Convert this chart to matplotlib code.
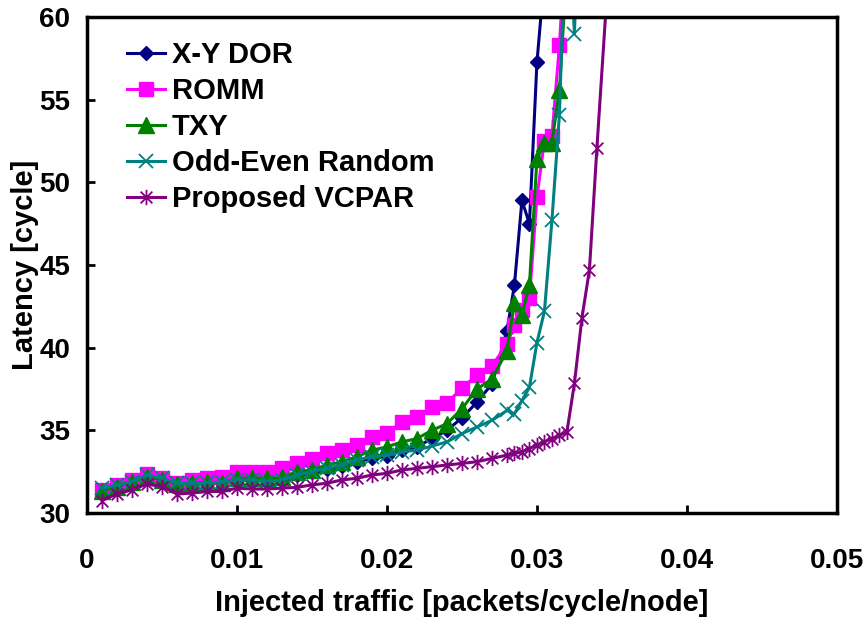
import matplotlib
matplotlib.use("Agg")
import matplotlib.pyplot as plt
from matplotlib.path import Path

plt.rcParams['font.family'] = ['Liberation Sans', 'DejaVu Sans']
plt.rcParams['font.weight'] = 'bold'

# injected traffic [packets/cycle/node]
x_low = [0.001, 0.002, 0.003, 0.004, 0.005, 0.006, 0.007, 0.008, 0.009, 0.010,
         0.011, 0.012, 0.013, 0.014, 0.015, 0.016, 0.017, 0.018, 0.019, 0.020,
         0.021, 0.022, 0.023, 0.024, 0.025, 0.026, 0.027]

xy_x = x_low + [0.028, 0.0285, 0.029, 0.0295, 0.030, 0.0305]
xy_y = [31.4, 31.6, 31.9, 32.2, 32.0, 31.7, 31.7, 31.8, 31.8, 32.0,
        32.0, 31.95, 32.0, 32.3, 32.45, 32.65, 32.85, 33.1, 33.3, 33.45,
        33.8, 34.0, 34.5, 35.0, 35.75, 36.7, 37.8,
        41.0, 43.8, 48.9, 47.5, 57.25, 62.5]

romm_x = x_low + [0.028, 0.0285, 0.029, 0.0295, 0.030, 0.0305, 0.031, 0.0315, 0.032]
romm_y = [31.4, 31.7, 32.0, 32.35, 32.1, 31.8, 32.0, 32.1, 32.15, 32.5,
          32.5, 32.5, 32.7, 33.0, 33.25, 33.6, 33.8, 34.1, 34.6, 34.85,
          35.5, 35.8, 36.4, 36.65, 37.55, 38.35, 38.9,
          40.2, 41.4, 42.3, 43.0, 49.1, 52.5, 52.8, 58.3, 66.0]

txy_x = x_low + [0.028, 0.0285, 0.029, 0.0295, 0.030, 0.0305, 0.031, 0.0315, 0.032]
txy_y = [31.35, 31.6, 31.9, 32.2, 32.0, 31.75, 31.8, 31.85, 31.8, 32.1,
         32.1, 32.1, 32.15, 32.5, 32.6, 32.9, 33.1, 33.4, 33.8, 34.0,
         34.3, 34.5, 35.0, 35.4, 36.3, 37.5, 38.1,
         39.8, 42.7, 42.0, 43.8, 51.4, 52.4, 52.4, 55.6, 63.0]

oe_x = x_low + [0.028, 0.0285, 0.029, 0.0295, 0.030, 0.0305, 0.031, 0.0315, 0.032, 0.0325, 0.033]
oe_y = [31.5, 31.7, 31.9, 32.3, 32.1, 31.8, 31.8, 31.8, 31.9, 32.0,
        32.0, 31.9, 32.0, 32.3, 32.5, 32.7, 32.9, 33.2, 33.4, 33.5,
        33.7, 33.8, 34.05, 34.3, 34.8, 35.2, 35.6,
        36.2, 36.0, 36.8, 37.6, 40.3, 42.2, 47.7, 54.1, 68.0, 59.0, 72.0]

vc_x = x_low + [0.028, 0.0285, 0.029, 0.0295, 0.030, 0.0305, 0.031, 0.0315, 0.032,
                0.0325, 0.033, 0.0335, 0.034, 0.035]
vc_y = [30.75, 31.15, 31.4, 31.75, 31.6, 31.15, 31.2, 31.3, 31.3, 31.5,
        31.45, 31.45, 31.5, 31.55, 31.7, 31.8, 32.0, 32.1, 32.3, 32.4,
        32.6, 32.7, 32.8, 32.9, 33.0, 33.1, 33.3,
        33.5, 33.6, 33.7, 33.9, 34.1, 34.3, 34.5, 34.7, 34.9,
        37.85, 41.8, 44.7, 52.1, 66.0]

labels = ['X-Y DOR', 'ROMM', 'TXY', 'Odd-Even Random', 'Proposed VCPAR']
x_ticks = [0, 0.01, 0.02, 0.03, 0.04, 0.05]
x_tick_labels = ['0', '0.01', '0.02', '0.03', '0.04', '0.05']
y_ticks = [30, 35, 40, 45, 50, 55, 60]

# excel style asterisk: x with a vertical bar
star = Path([(-1, -1), (1, 1), (-1, 1), (1, -1), (0, -1.3), (0, 1.3)],
            [Path.MOVETO, Path.LINETO, Path.MOVETO, Path.LINETO, Path.MOVETO, Path.LINETO])

fig = plt.figure(figsize=(8.67, 6.24), dpi=100)
ax = fig.add_axes([0.1003, 0.1779, 0.865, 0.7949])

lw = 2.2
ax.plot(xy_x, xy_y, color='#000080', lw=lw, marker='D', ms=7, label=labels[0])
ax.plot(romm_x, romm_y, color='#FF00FF', lw=lw, marker='s', ms=10, label=labels[1])
ax.plot(txy_x, txy_y, color='#008000', lw=lw, marker='^', ms=11, label=labels[2])
ax.plot(oe_x, oe_y, color='#008080', lw=lw, marker='x', ms=10, mew=1.3, label=labels[3])
ax.plot(vc_x, vc_y, color='#800080', lw=lw, marker=star, ms=11, mew=1.3, label=labels[4])

ax.set_xlim(0, 0.05)
ax.set_ylim(30, 60)
ax.set_xticks(x_ticks)
ax.set_xticklabels(x_tick_labels)
ax.set_yticks(y_ticks)
ax.tick_params(direction='in', length=6, width=2, labelsize=20)
ax.tick_params(axis='x', pad=25)
ax.tick_params(axis='y', pad=12)
for s in ax.spines.values():
    s.set_linewidth(2.5)

ax.set_xlabel('Injected traffic [packets/cycle/node]', fontsize=21, fontweight='bold', labelpad=11)
ax.set_ylabel('Latency [cycle]', fontsize=21, fontweight='bold', labelpad=0)

ax.legend(loc='upper left', bbox_to_anchor=(0.053, 0.952), frameon=False, fontsize=21,
          handlelength=1.3, handletextpad=0.25, labelspacing=0.28, borderaxespad=0,
          borderpad=0)

fig.savefig('out.png', dpi=100)
